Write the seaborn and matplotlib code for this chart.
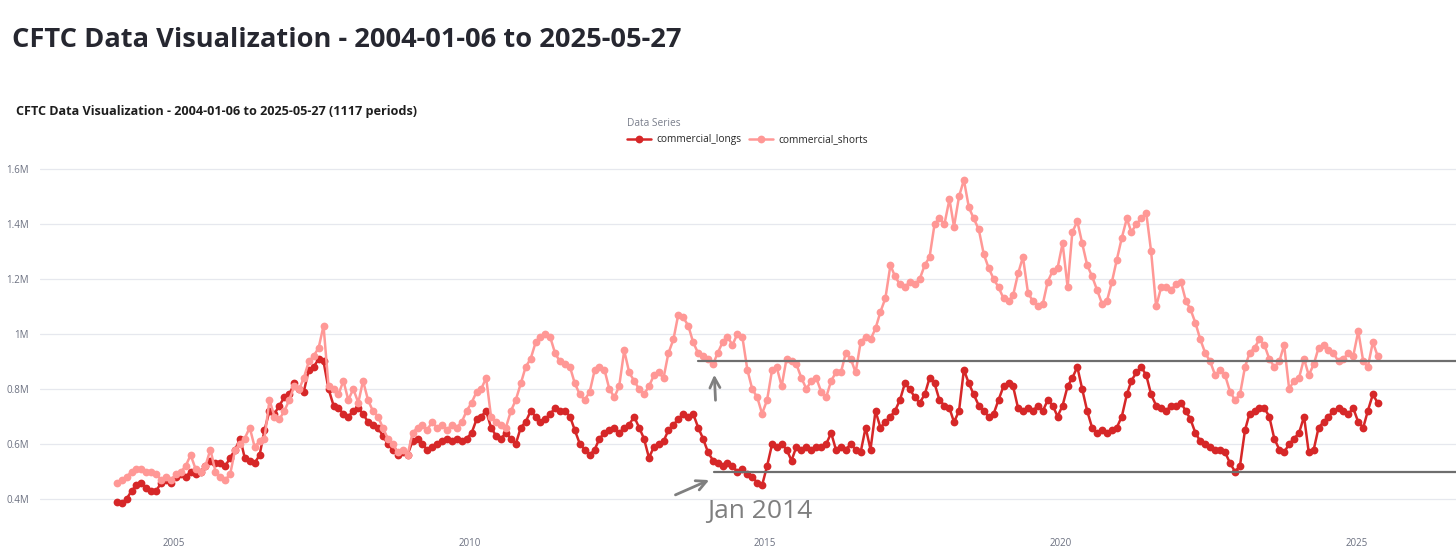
import pandas as pd
import matplotlib
matplotlib.use("Agg")
import matplotlib.pyplot as plt
import matplotlib.dates as mdates
from matplotlib.ticker import FuncFormatter
import seaborn as sns

# monthly readings, millions of contracts, Jan 2004 .. May 2025
commercial_longs = [
    .39, .385, .40, .43, .45, .46, .44, .43, .43, .46, .47, .46,   # 2004
    .48, .49, .48, .50, .49, .50, .52, .54, .53, .53, .52, .55,    # 2005
    .58, .62, .55, .54, .53, .56, .65, .72, .71, .74, .77, .78,    # 2006
    .82, .80, .79, .87, .88, .91, .90, .80, .74, .73, .71, .70,    # 2007
    .72, .73, .71, .68, .67, .66, .63, .60, .58, .56, .57, .56,    # 2008
    .61, .62, .60, .58, .59, .60, .61, .62, .61, .62, .61, .62,    # 2009
    .64, .69, .70, .72, .66, .63, .62, .64, .62, .60, .66, .68,    # 2010
    .72, .70, .68, .69, .71, .73, .72, .72, .70, .65, .60, .58,    # 2011
    .56, .58, .62, .64, .65, .66, .64, .66, .67, .70, .66, .62,    # 2012
    .55, .59, .60, .61, .65, .67, .69, .71, .70, .71, .66, .62,    # 2013
    .57, .54, .53, .52, .53, .52, .50, .51, .49, .48, .46, .45,    # 2014
    .52, .60, .59, .60, .58, .54, .59, .58, .59, .58, .59, .59,    # 2015
    .60, .64, .58, .59, .58, .60, .58, .57, .66, .58, .72, .66,    # 2016
    .68, .70, .72, .76, .82, .80, .77, .75, .78, .84, .82, .76,    # 2017
    .74, .73, .68, .72, .87, .82, .78, .74, .72, .70, .71, .76,    # 2018
    .81, .82, .81, .73, .72, .73, .72, .74, .72, .76, .74, .70,    # 2019
    .74, .81, .84, .88, .80, .72, .66, .64, .65, .64, .65, .66,    # 2020
    .70, .78, .83, .86, .88, .85, .78, .74, .73, .72, .74, .74,    # 2021
    .75, .72, .69, .64, .61, .60, .59, .58, .58, .57, .53, .50,    # 2022
    .52, .65, .71, .72, .73, .73, .70, .62, .58, .57, .60, .62,    # 2023
    .64, .70, .57, .58, .66, .68, .70, .72, .73, .72, .71, .73,    # 2024
    .68, .66, .72, .78, .75,                                       # 2025
]
commercial_shorts = [
    .46, .47, .48, .50, .51, .51, .50, .50, .49, .47, .48, .47,    # 2004
    .49, .50, .52, .56, .51, .50, .52, .58, .50, .48, .47, .49,    # 2005
    .58, .60, .62, .66, .59, .61, .62, .76, .70, .69, .72, .76,    # 2006
    .81, .80, .84, .90, .92, .95, 1.03, .81, .80, .78, .83, .76,   # 2007
    .80, .75, .83, .76, .72, .70, .66, .62, .60, .57, .58, .56,    # 2008
    .64, .66, .67, .65, .68, .66, .67, .65, .67, .66, .68, .72,    # 2009
    .75, .79, .80, .84, .70, .68, .67, .66, .72, .76, .82, .88,    # 2010
    .91, .97, .99, 1.0, .99, .93, .90, .89, .88, .82, .78, .76,    # 2011
    .79, .87, .88, .87, .80, .77, .81, .94, .86, .83, .80, .78,    # 2012
    .81, .85, .86, .84, .93, .98, 1.07, 1.06, 1.03, .97, .93, .92, # 2013
    .91, .89, .93, .97, .99, .96, 1.0, .99, .87, .80, .77, .71,    # 2014
    .76, .87, .88, .81, .91, .90, .89, .84, .80, .83, .84, .79,    # 2015
    .77, .83, .86, .86, .93, .91, .86, .97, .99, .98, 1.02, 1.08,  # 2016
    1.13, 1.25, 1.21, 1.18, 1.17, 1.19, 1.18, 1.20, 1.25, 1.28, 1.40, 1.42,  # 2017
    1.40, 1.49, 1.39, 1.50, 1.56, 1.46, 1.42, 1.38, 1.29, 1.24, 1.20, 1.17,  # 2018
    1.13, 1.12, 1.14, 1.22, 1.28, 1.15, 1.12, 1.10, 1.11, 1.19, 1.23, 1.24,  # 2019
    1.33, 1.17, 1.37, 1.41, 1.33, 1.25, 1.21, 1.16, 1.11, 1.12, 1.19, 1.27,  # 2020
    1.35, 1.42, 1.37, 1.40, 1.42, 1.44, 1.30, 1.10, 1.17, 1.17, 1.16, 1.18,  # 2021
    1.19, 1.12, 1.09, 1.04, .98, .93, .90, .85, .87, .85, .79, .76,  # 2022
    .78, .88, .93, .95, .98, .96, .91, .88, .90, .96, .80, .83,    # 2023
    .84, .91, .85, .89, .95, .96, .94, .93, .90, .91, .93, .92,    # 2024
    1.01, .90, .88, .97, .92,                                      # 2025
]
series_names = ["commercial_longs", "commercial_shorts"]
series_colors = ["#d62728", "#ff9896"]
y_ticks = [0.4, 0.6, 0.8, 1.0, 1.2, 1.4, 1.6]

# hand drawn reference levels + note
level_hi, level_hi_start = 0.9, "2013-11-10"
level_lo, level_lo_start = 0.5, "2014-02-20"
note_text = "Jan 2014"

dates = pd.date_range("2004-01-01", periods=len(commercial_longs), freq="MS") + pd.Timedelta(days=12)
df = pd.DataFrame({
    "date": list(dates) * 2,
    "value": commercial_longs + commercial_shorts,
    "series": [series_names[0]] * len(dates) + [series_names[1]] * len(dates),
})

sns.set_theme(style="white")
plt.rcParams["font.family"] = ["Open Sans", "DejaVu Sans"]

W, H = 1456, 548
fig = plt.figure(figsize=(W / 100, H / 100), dpi=100)
ax = fig.add_axes([40 / W, 1 - 525 / H, 1 - 40 / W, 375 / H])

sns.lineplot(data=df, x="date", y="value", hue="series", hue_order=series_names,
             palette=series_colors, marker="o", markersize=5.6, markeredgewidth=0,
             linewidth=1.8, ax=ax)

x_left = pd.Timestamp("2002-09-25")
x_right = pd.Timestamp("2026-09-09")
ax.set_xlim(x_left, x_right)
ax.set_ylim(0.3055, 1.669)

# reference levels and arrows
ax.plot([pd.Timestamp(level_hi_start), x_right], [level_hi, level_hi], color="#6e6e6e", lw=1.6, zorder=5)
ax.plot([pd.Timestamp(level_lo_start), x_right], [level_lo, level_lo], color="#6e6e6e", lw=1.6, zorder=5)
arrow = dict(arrowstyle="->", color="#7f7f7f", lw=2, mutation_scale=18)
ax.annotate("", xy=(pd.Timestamp("2014-02-05"), 0.473), xytext=(pd.Timestamp("2013-06-10"), 0.411),
            arrowprops=arrow, zorder=6)
ax.annotate("", xy=(pd.Timestamp("2014-02-20"), 0.862), xytext=(pd.Timestamp("2014-03-01"), 0.749),
            arrowprops=arrow, zorder=6)
ax.text(pd.Timestamp("2014-12-01"), 0.356, note_text, fontsize=19, color="#7f7f7f",
        ha="center", va="center")

ax.set_yticks(y_ticks)
ax.yaxis.set_major_formatter(FuncFormatter(lambda v, p: f"{v:g}M"))
ax.xaxis.set_major_locator(mdates.YearLocator(5))
ax.xaxis.set_major_formatter(mdates.DateFormatter("%Y"))
ax.tick_params(axis="both", length=0, labelsize=7, labelcolor="#6b7080")
ax.tick_params(axis="y", pad=8)
ax.tick_params(axis="x", pad=9)
ax.grid(axis="y", color="#e6e8ee", lw=0.9)
ax.grid(axis="x", visible=False)
for s in ax.spines.values():
    s.set_visible(False)
ax.set_xlabel("")
ax.set_ylabel("")

handles, labels = ax.get_legend_handles_labels()
leg = ax.legend(handles, labels, title="Data Series", ncol=2, loc="upper left",
                bbox_to_anchor=(627 / W, 1 - 118 / H), bbox_transform=fig.transFigure,
                frameon=False, fontsize=7.3, title_fontsize=7.3, handlelength=2.4,
                columnspacing=0.7, handletextpad=0.5, borderaxespad=0, borderpad=0)
leg.get_title().set_color("#7a7f8c")
leg._legend_box.align = "left"

fig.text(12 / W, 1 - 40 / H, "CFTC Data Visualization - 2004-01-06 to 2025-05-27",
         fontsize=19.6, fontweight="bold", color="#262730", ha="left", va="center")
fig.text(16 / W, 1 - 111 / H, "CFTC Data Visualization - 2004-01-06 to 2025-05-27 (1117 periods)",
         fontsize=9.1, fontweight="bold", color="#1e1e1e", ha="left", va="center")

fig.savefig("out.png", dpi=100)
